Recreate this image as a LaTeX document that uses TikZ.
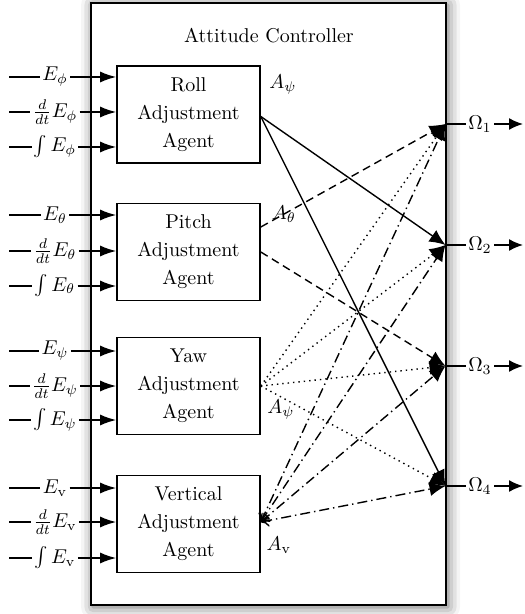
\documentclass[tikz,border=0pt]{standalone}
\usetikzlibrary{arrows.meta,shadows.blur}
\tikzset{
  outerbox/.style={draw, line width=1.3pt, fill=white,
    blur shadow={shadow xshift=1pt, shadow yshift=-1pt, shadow blur radius=6pt, shadow opacity=60}},
  agentbox/.style={draw, line width=0.8pt, fill=white, minimum width=71.5pt, minimum height=48.5pt, align=center},
  lab/.style={inner sep=1pt},
  inl/.style={line width=0.8pt},
  inarr/.style={line width=0.8pt, -{Latex[length=8pt,width=5.5pt]}},
  outarr/.style={line width=0.8pt, -{Latex[length=7pt,width=6pt]}},
  conn/.style={line width=0.7pt, -{Latex[length=8pt,width=7pt]}},
  solidc/.style={conn},
  dashc/.style={conn, dash pattern=on 4pt off 2.5pt},
  dotc/.style={conn, dash pattern=on 0.7pt off 2pt},
  dashdotc/.style={line width=0.7pt, {To[length=4pt,width=6pt]}-{Latex[length=8pt,width=7pt]}, dash pattern=on 5pt off 2pt on 0.7pt off 2pt},
}
\newcommand\agentinputs[5]{%
  \coordinate (#1-s1) at (9,#2);
  \coordinate (#1-s2) at (9,#3);
  \coordinate (#1-s3) at (9,#4);
  \node[lab] (#1-l1) at (55,#2) {$E_{#5}$};
  \node[lab] (#1-l2) at (55,#3) {$\frac{d}{dt}E_{#5}$};
  \node[lab] (#1-l3) at (55,#4) {$\int E_{#5}$};
  \draw[inl] (#1-s1) -- (#1-l1);
  \draw[inl] (#1-s2) -- (#1-l2);
  \draw[inl] (#1-s3) -- (#1-l3);
  \draw[inarr] (#1-l1) -- (#1.west |- #1-l1);
  \draw[inarr] (#1-l2) -- (#1.west |- #1-l2);
  \draw[inarr] (#1-l3) -- (#1.west |- #1-l3);
}
\begin{document}
\begin{tikzpicture}[x=0.5pt,y=-0.5pt]
\useasboundingbox (0,0) rectangle (524,614);
\node[outerbox, minimum width=177.5pt, minimum height=301pt] (ctrl) at (268.5,304) {};
\node (title) at (269,36) {Attitude Controller};

\node[agentbox] (roll) at (188.5,114.5) {Roll\\[2pt]Adjustment\\[2pt]Agent};
\node[agentbox] (pitch) at (188.5,252) {Pitch\\[2pt]Adjustment\\[2pt]Agent};
\node[agentbox] (yaw) at (188.5,386) {Yaw\\[2pt]Adjustment\\[2pt]Agent};
\node[agentbox] (vert) at (188.5,524) {Vertical\\[2pt]Adjustment\\[2pt]Agent};

\agentinputs{roll}{77}{112}{147}{\phi}
\agentinputs{pitch}{215}{251}{286}{\theta}
\agentinputs{yaw}{351}{386}{420}{\psi}
\agentinputs{vert}{488}{522}{558}{\mathrm{v}}

% outputs
\foreach \i/\yy in {1/124,2/245,3/366,4/486}{
  \coordinate (o\i) at (445.5,\yy);
  \node[lab] (om\i) at (480,\yy) {$\Omega_\i$};
  \coordinate (t\i) at (523,\yy);
  \draw[inl] (o\i) -- (om\i);
  \draw[outarr] (om\i) -- (t\i);
}

% agent labels
\node (aroll) at (283,85) {$A_\psi$};
\node (apitch) at (284,214) {$A_\theta$};
\node (ayaw) at (281,410) {$A_\psi$};
\node (avert) at (279,545) {$A_{\mathrm{v}}$};

% roll
\draw[solidc] ([yshift=-1pt]roll.east) -- (o2);
\draw[solidc] ([yshift=-1pt]roll.east) -- (o4);
% pitch
\coordinate (pu) at ([yshift=12.5pt]pitch.east);
\draw[dashc] (pu) -- (o1);
\draw[dashc] (pitch.east) -- (o3);
% yaw
\foreach \i in {1,2,3,4}{\draw[dotc] (yaw.east) -- (o\i);}
% vertical
\foreach \i in {1,2,3,4}{\draw[dashdotc] ([yshift=1pt]vert.east) -- (o\i);}
\end{tikzpicture}
\end{document}
